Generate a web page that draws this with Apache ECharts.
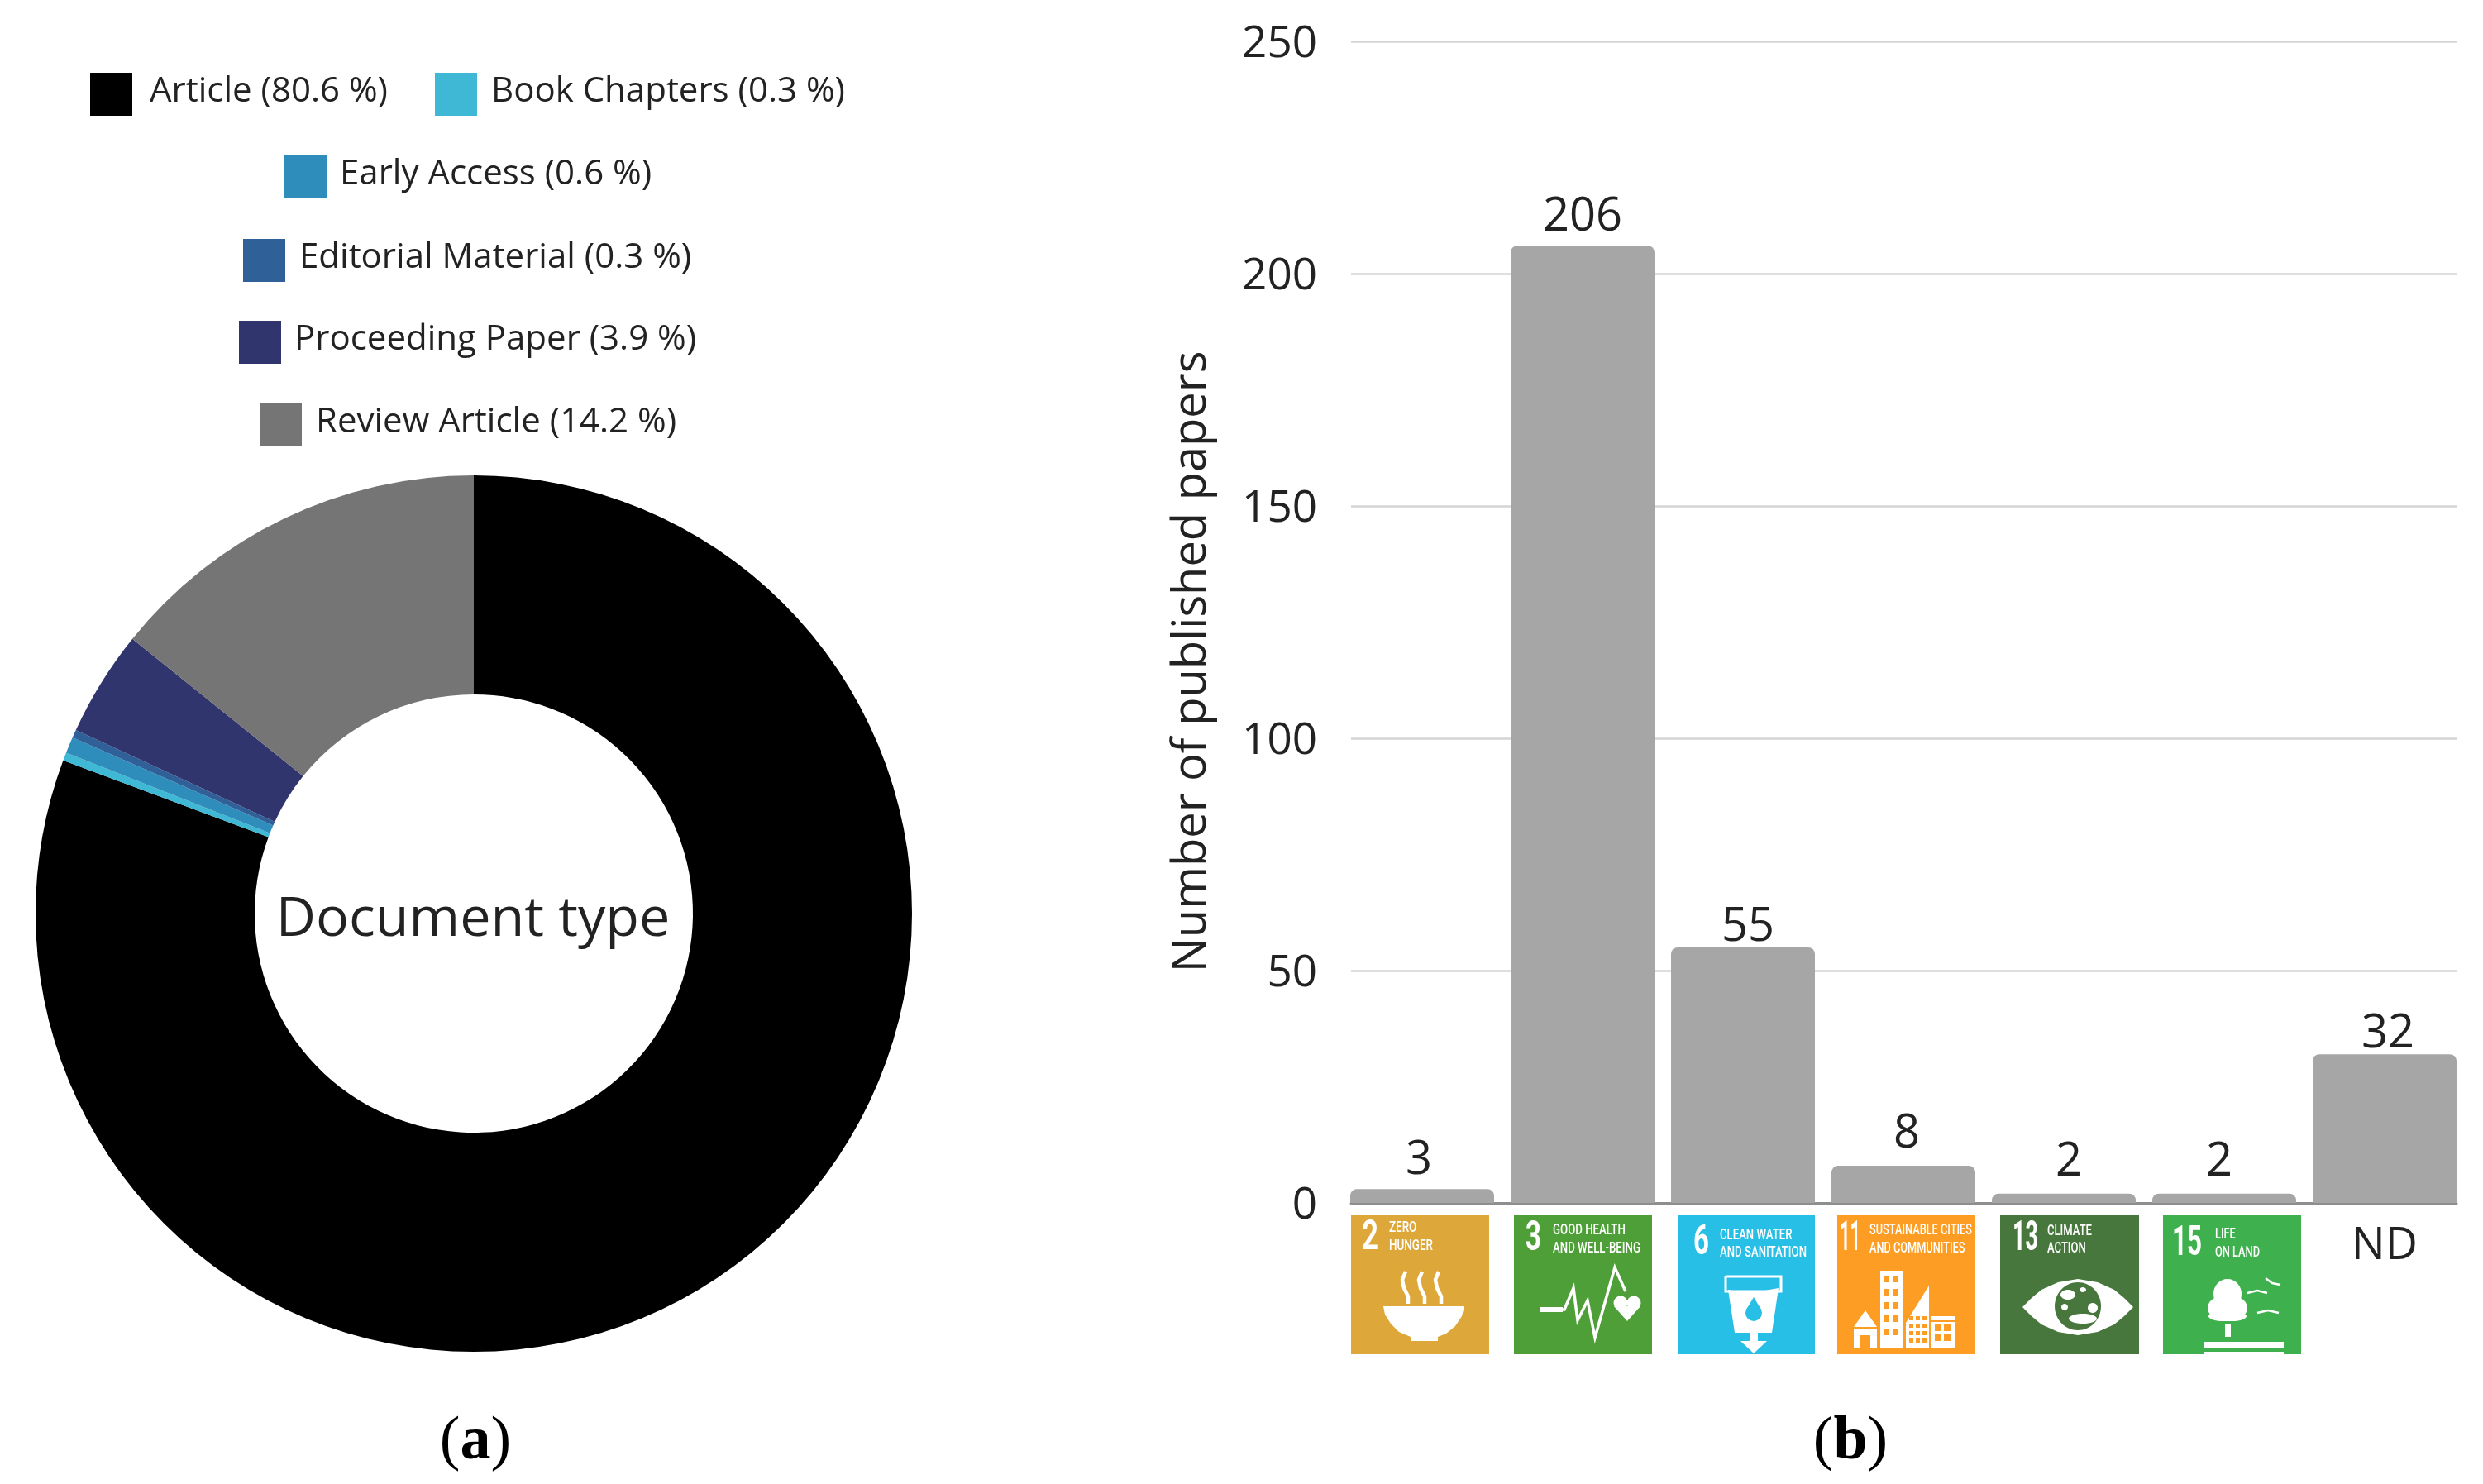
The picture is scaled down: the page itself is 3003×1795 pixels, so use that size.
<!DOCTYPE html>
<html>
<head>
<meta charset="utf-8">
<style>html,body{margin:0;padding:0;background:#fff}#c{width:3003px;height:1795px}</style>
<script src="https://cdn.jsdelivr.net/npm/echarts@6/dist/echarts.min.js"></script>
</head>
<body>
<div id="c"></div>
<script>
// ---- data ----
const docTypes = ['Article', 'Book Chapters', 'Early Access', 'Editorial Material', 'Proceeding Paper', 'Review Article'];
const docShares = [80.6, 0.3, 0.6, 0.3, 3.9, 14.2];
const categories = ['SDG 2', 'SDG 3', 'SDG 6', 'SDG 11', 'SDG 13', 'SDG 15', 'ND'];
const papers = [3, 206, 55, 8, 2, 2, 32];
const yTicks = [0, 50, 100, 150, 200, 250];
const sdgNumbers = ['2', '3', '6', '11', '13', '15'];
const sdgCaptions = [
  ['ZERO', 'HUNGER'], ['GOOD HEALTH', 'AND WELL-BEING'], ['CLEAN WATER', 'AND SANITATION'],
  ['SUSTAINABLE CITIES', 'AND COMMUNITIES'], ['CLIMATE', 'ACTION'], ['LIFE', 'ON LAND']
];

// ---- styles / layout ----
const FONT = '"Open Sans"';
const INK = '#222';
const docColors = ['#000000', '#3FB8D6', '#2E8DBB', '#2F6098', '#31356E', '#757575'];
const legendRows = [
  { names: ['Article'], left: 109, top: 88, textGap: 16 },
  { names: ['Book Chapters'], left: 526, top: 88, textGap: 12 },
  { names: ['Early Access'], left: 344, top: 188, textGap: 11 },
  { names: ['Editorial Material'], left: 294, top: 289, textGap: 12 },
  { names: ['Proceeding Paper'], left: 289, top: 388, textGap: 11 },
  { names: ['Review Article'], left: 314, top: 488, textGap: 12 }
];
const labelNudges = [[-4, 0], [0, 0], [6, 10], [4, -4], [6, -4], [-6, -4], [4, 10]];
const tiles = [
  { x: 1634, w: 167, fill: '#DDA73A', nx: 13, nw: 20, ny: 28, cx: 46, cy: [15, 37], cw: 53 },
  { x: 1831, w: 167, fill: '#4E9F38', nx: 14, nw: 19, ny: 29, cx: 47, cy: [18, 40], cw: 106 },
  { x: 2029, w: 166, fill: '#27BFE6', nx: 19, nw: 19, ny: 34, cx: 51, cy: [24, 45], cw: 105 },
  { x: 2222, w: 167, fill: '#FD9D24', nx: 3, nw: 25, ny: 29, cx: 39, cy: [18, 40], cw: 124 },
  { x: 2419, w: 168, fill: '#48773E', nx: 15, nw: 31, ny: 29, cx: 57, cy: [19, 40], cw: 54 },
  { x: 2616, w: 167, fill: '#3EB04D', nx: 11, nw: 36, ny: 35, cx: 63, cy: [23, 45], cw: 54 }
];
const TILE_Y = 1470, TILE_H = 168;

const measure = document.createElement('canvas').getContext('2d');
function fitScale(lines, target, font) {
  measure.font = font;
  return target / Math.max.apply(null, lines.map(l => measure.measureText(l).width));
}
const poly = (pts, fill) => ({ type: 'polygon', shape: { points: pts }, style: { fill: fill || '#fff' } });
const line = (pts, w, color) => ({ type: 'polyline', shape: { points: pts }, style: { stroke: color || '#fff', lineWidth: w, fill: null, lineJoin: 'miter' } });
const rect = (x, y, w, h, fill) => ({ type: 'rect', shape: { x, y, width: w, height: h }, style: { fill: fill || '#fff' } });
const circ = (cx, cy, r, fill) => ({ type: 'circle', shape: { cx, cy, r }, style: { fill: fill || '#fff' } });
const ell = (cx, cy, rx, ry, fill) => ({ type: 'ellipse', shape: { cx, cy, rx, ry }, style: { fill: fill || '#fff' } });

function icon(i) {
  const f = tiles[i].fill, out = [];
  if (i === 0) {
    [66, 86, 106].forEach(x => out.push(line([[x, 68], [x - 4, 78], [x - 2, 88], [x + 3, 98], [x + 3, 107]], 4.5)));
    out.push(poly([[39, 110], [137, 110], [134, 122], [126, 134], [115, 143], [105, 147], [105, 152], [72, 152], [72, 147], [58, 141], [48, 131], [41, 120]]));
  } else if (i === 1) {
    out.push(line([[31, 114], [61, 114], [72, 88], [77, 127], [89, 103], [98, 148], [122, 63], [135, 92]], 3.5));
    out.push(rect(31, 111, 28, 6));
    out.push(circ(129, 106, 8.5), circ(145, 106, 8.5), poly([[121, 110], [153, 110], [137, 128]]));
  } else if (i === 2) {
    out.push(line([[58, 74], [125, 74], [125, 92], [58, 92], [58, 74]], 3));
    out.push(poly([[61, 90], [80, 93], [100, 92], [122, 88], [114, 142], [69, 142]]));
    out.push(rect(87, 142, 10, 12), poly([[76, 152], [108, 152], [92, 167]]));
    out.push(circ(92, 118, 10, f), poly([[92, 99], [83, 114], [101, 114]], f));
  } else if (i === 3) {
    out.push(poly([[20, 135], [34, 115], [48, 135], [48, 160], [20, 160]]));
    out.push(rect(28, 145, 12, 15, f), rect(20, 135, 28, 2, f));
    out.push(rect(52, 67, 27, 93));
    for (let r = 0; r < 5; r++) for (let c = 0; c < 2; c++) out.push(rect(56 + c * 11, 73 + r * 16, 7, 8, f));
    out.push(poly([[83, 160], [83, 130], [111, 85], [111, 160]]));
    for (let r = 0; r < 4; r++) for (let c = 0; c < 3; c++) out.push(rect(87 + c * 8, 122 + r * 9, 5, 5, f));
    out.push(rect(114, 122, 28, 38));
    for (let r = 0; r < 2; r++) for (let c = 0; c < 2; c++) out.push(rect(118 + c * 11, 132 + r * 12, 8, 8, f));
    out.push(rect(114, 127, 28, 2, f));
  } else if (i === 4) {
    out.push(poly([[27, 111], [38, 100], [50, 90], [70, 81], [94, 77], [118, 81], [138, 90], [150, 100], [161, 111], [150, 122], [138, 132], [118, 141], [94, 145], [70, 141], [50, 132], [38, 122]]));
    out.push(ell(94, 110, 28, 29, f));
    out.push(ell(82, 96, 9, 6), ell(78, 111, 4, 4), ell(100, 125, 17, 6), ell(112, 112, 6, 6), ell(100, 90, 4, 3));
    out.push(ell(97, 134, 8, 2, f));
  } else {
    out.push(ell(78, 95, 17, 18), ell(78, 112, 24, 16), ell(72, 122, 17, 6), ell(84, 122, 17, 6), rect(75, 132, 7, 15));
    out.push(rect(49, 153, 97, 7), rect(49, 165, 97, 3));
    out.push(line([[102, 94], [114, 91], [126, 94]], 2.5), line([[114, 118], [127, 115], [140, 118]], 2.5), line([[124, 76], [132, 82], [142, 84]], 2.5));
  }
  return out;
}

const tileGraphics = tiles.map((t, i) => {
  const capFont = '500 18px Roboto', numFont = 'bold 50px Roboto';
  const sc = fitScale(sdgCaptions[i], t.cw, capFont);
  const children = [
    rect(0, 0, t.w, TILE_H, t.fill),
    { type: 'text', x: t.nx, y: t.ny, scaleX: fitScale([sdgNumbers[i]], t.nw, numFont),
      style: { text: sdgNumbers[i], font: numFont, fill: '#fff', textAlign: 'left', textVerticalAlign: 'middle' } }
  ];
  sdgCaptions[i].forEach((c, k) => children.push({
    type: 'text', x: t.cx, y: t.cy[k], scaleX: sc,
    style: { text: c, font: capFont, fill: '#fff', textAlign: 'left', textVerticalAlign: 'middle' }
  }));
  return { type: 'group', x: t.x, y: TILE_Y, children: children.concat(icon(i)), silent: true };
});

const labelOf = {};
docTypes.forEach((n, i) => { labelOf[n] = n + ' (' + docShares[i].toFixed(1) + ' %)'; });

const chart = echarts.init(document.getElementById('c'), null, { renderer: 'canvas' });
const serif = '"Liberation Serif"';
const panelLabel = (letter, x) => ({
  text: '{p|(}{b|' + letter + '}{p|)}', left: x, top: 1740, textAlign: 'center', textVerticalAlign: 'middle',
  textStyle: { fontWeight: 'normal', rich: {
    p: { fontFamily: serif, fontSize: 74, fontWeight: 'normal', color: '#000' },
    b: { fontFamily: serif, fontSize: 74, fontWeight: 'bold', color: '#000' }
  } }
});

chart.setOption({
  animation: false,
  backgroundColor: '#fff',
  title: [
    { text: 'Document type', left: 567, top: 1108, textAlign: 'center', textVerticalAlign: 'middle',
      textStyle: { fontFamily: FONT, fontSize: 66.5, fontWeight: 'normal', color: '#222' } },
    panelLabel('a', 570),
    panelLabel('b', 2233)
  ],
  legend: legendRows.map(r => ({
    data: r.names, left: r.left, top: r.top, orient: 'horizontal', padding: 0,
    itemWidth: 51, itemHeight: 52, icon: 'rect', selectedMode: false,
    formatter: n => '{t|' + labelOf[n] + '}',
    textStyle: { padding: [0, 0, 0, r.textGap],
      rich: { t: { fontFamily: FONT, fontSize: 42, color: INK, padding: [0, 0, 6, 0] } } }
  })),
  grid: [
    { left: 1634, top: 50, width: 1337, height: 1405 },
    { left: 1623, top: 50, width: 1358, height: 1405 }
  ],
  xAxis: [
    { gridIndex: 0, type: 'category', data: categories, axisLine: { show: true, lineStyle: { color: '#8E8E8E', width: 3 } },
      axisTick: { show: false }, axisLabel: { show: false }, splitLine: { show: false } },
    { gridIndex: 1, type: 'category', data: categories, axisLine: { show: false }, axisTick: { show: false },
      axisLabel: { margin: 26, fontFamily: FONT, fontSize: 54, color: INK,
        formatter: v => (v === 'ND' ? v : '') }, splitLine: { show: false } }
  ],
  yAxis: [
    { gridIndex: 0, type: 'value', min: 0, max: 250, interval: 50,
      name: 'Number of published papers', nameLocation: 'middle', nameGap: 164, nameRotate: 90,
      nameTextStyle: { fontFamily: FONT, fontSize: 56, color: INK, padding: [0, 96, 0, 0] },
      axisLine: { show: false }, axisTick: { show: false },
      axisLabel: { margin: 41, formatter: v => (yTicks.indexOf(v) >= 0 ? '{t|' + v + '}' : ''),
        rich: { t: { fontFamily: FONT, fontSize: 53, color: INK, padding: [8, 0, 0, 0] } } },
      splitLine: { show: true, lineStyle: { color: '#D4D4D4', width: 2.5 } } },
    { gridIndex: 1, type: 'value', min: 0, max: 250, interval: 50, show: false, splitLine: { show: false } }
  ],
  graphic: { elements: tileGraphics },
  series: [
    { type: 'pie', center: [573, 1105], radius: [265, 530], startAngle: 90, clockwise: true,
      label: { show: false }, labelLine: { show: false }, silent: true, avoidLabelOverlap: false,
      emphasis: { disabled: true }, itemStyle: { borderWidth: 0 },
      data: docTypes.map((n, i) => ({ name: n, value: docShares[i], itemStyle: { color: docColors[i] } })) },
    { type: 'bar', xAxisIndex: 1, yAxisIndex: 1, barWidth: 174, silent: true,
      data: papers.map((v, i) => ({ value: v, label: { offset: labelNudges[i] } })),
      itemStyle: { color: '#A6A6A6', borderRadius: [8, 8, 0, 0] },
      label: { show: true, position: 'top', distance: 6, fontFamily: FONT, fontSize: 56, color: INK } }
  ]
});
</script>
</body>
</html>
